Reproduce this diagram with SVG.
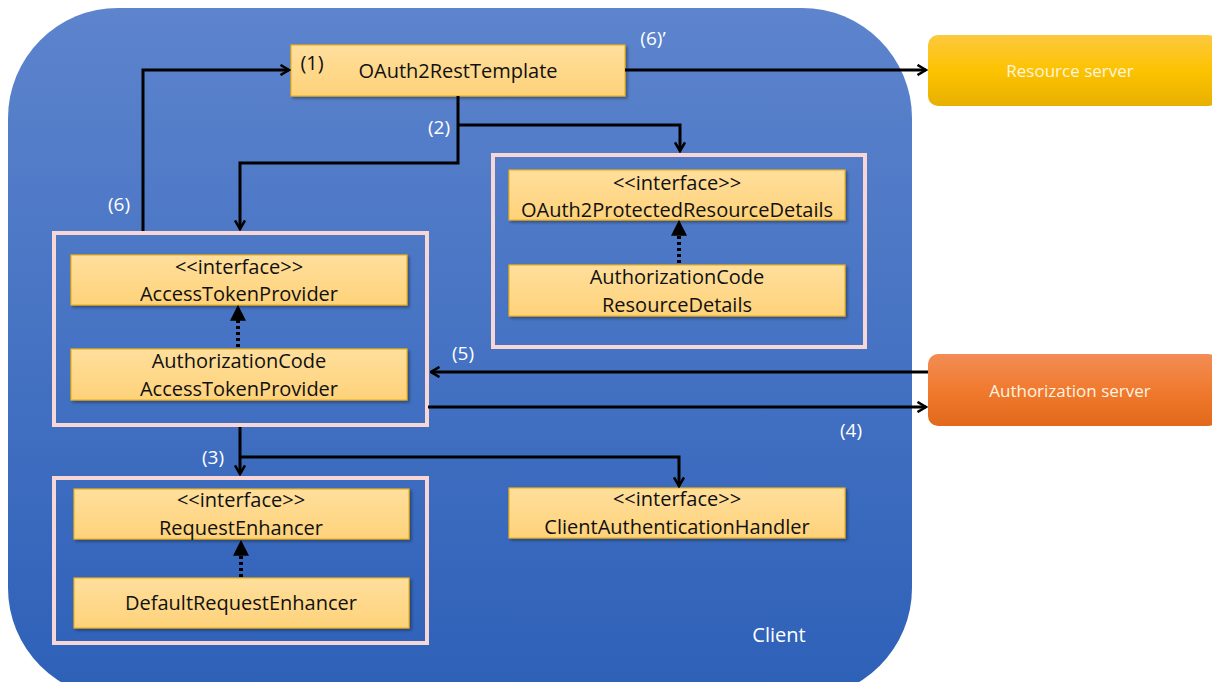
<svg xmlns="http://www.w3.org/2000/svg" width="1212" height="682" viewBox="0 0 1212 682">
<defs>
<linearGradient id="gClient" x1="0" y1="0" x2="0" y2="1">
<stop offset="0" stop-color="#5d84cd"/>
<stop offset="1" stop-color="#2d60b8"/>
</linearGradient>
<linearGradient id="gBox" x1="0" y1="0" x2="0" y2="1">
<stop offset="0" stop-color="#ffdf9c"/>
<stop offset="1" stop-color="#fed27a"/>
</linearGradient>
<linearGradient id="gRes" x1="0" y1="0" x2="0" y2="1">
<stop offset="0" stop-color="#fdc83e"/>
<stop offset="0.5" stop-color="#fcc300"/>
<stop offset="1" stop-color="#e8b000"/>
</linearGradient>
<linearGradient id="gAuth" x1="0" y1="0" x2="0" y2="1">
<stop offset="0" stop-color="#f28d55"/>
<stop offset="0.5" stop-color="#f07a2f"/>
<stop offset="1" stop-color="#e2691a"/>
</linearGradient>
<filter id="sh" x="-5%" y="-10%" width="110%" height="130%">
<feDropShadow dx="2" dy="2" stdDeviation="1.5" flood-color="#000" flood-opacity="0.35"/>
</filter>
<marker id="arr" viewBox="0 0 12 12" refX="10.5" refY="6" markerWidth="12" markerHeight="12" markerUnits="userSpaceOnUse" orient="auto">
<path d="M2,1 L10.5,6 L2,11" fill="none" stroke="#000" stroke-width="2.6"/>
</marker>
<marker id="tri" viewBox="0 0 14 14" refX="13" refY="7" markerWidth="16" markerHeight="16" markerUnits="userSpaceOnUse" orient="auto">
<path d="M0,0 L14,7 L0,14 Z" fill="#000"/>
</marker>
</defs>
<style>
.box{fill:url(#gBox);stroke:#f0b21a;stroke-width:1.2;filter:url(#sh)}
.grp{fill:none;stroke:#f7d6d6;stroke-width:4}
.t{font-family:"Open Sans","Liberation Sans",sans-serif;font-size:20px;fill:#111;text-anchor:middle}
.w{font-family:"Open Sans","Liberation Sans",sans-serif;font-size:19px;fill:#fff;text-anchor:middle}
.ws{font-family:"Open Sans","Liberation Sans",sans-serif;font-size:17px;fill:#fff4e0;text-anchor:middle}
.c{fill:none;stroke:#000;stroke-width:3;marker-end:url(#arr)}
.d{fill:none;stroke:#000;stroke-width:4;stroke-dasharray:3 3;marker-end:url(#tri)}
</style>
<g id="client">
<rect x="8" y="8" width="904" height="690" rx="110" ry="110" fill="url(#gClient)"/>
<text class="w" x="779" y="642" style="font-size:20px">Client</text>
</g>
<g id="resource-server">
<rect x="928" y="35" width="290" height="71" rx="10" fill="url(#gRes)"/>
<text class="ws" x="1070" y="77">Resource server</text>
</g>
<g id="authorization-server">
<rect x="928" y="354" width="290" height="72" rx="10" fill="url(#gAuth)"/>
<text class="ws" x="1070" y="397">Authorization server</text>
</g>
<g id="group-token">
<rect class="grp" x="54" y="233" width="373" height="192"/>
</g>
<g id="group-resource">
<rect class="grp" x="493" y="155" width="372" height="192"/>
</g>
<g id="group-enhancer">
<rect class="grp" x="54" y="478" width="373" height="165"/>
</g>
<g id="oauth2resttemplate">
<rect class="box" x="291" y="45" width="334" height="51"/>
<text class="t" x="312" y="70">(1)</text>
<text class="t" x="458" y="78">OAuth2RestTemplate</text>
</g>
<g id="accesstokenprovider">
<rect class="box" x="71" y="255" width="336" height="50"/>
<text class="t" x="239" y="274">&lt;&lt;interface&gt;&gt;</text>
<text class="t" x="239" y="301">AccessTokenProvider</text>
</g>
<g id="authcodeaccesstokenprovider">
<rect class="box" x="71" y="349" width="336" height="51"/>
<text class="t" x="239" y="368">AuthorizationCode</text>
<text class="t" x="239" y="396">AccessTokenProvider</text>
</g>
<g id="oauth2protectedresourcedetails">
<rect class="box" x="509" y="170" width="336" height="50"/>
<text class="t" x="677" y="190">&lt;&lt;interface&gt;&gt;</text>
<text class="t" x="677" y="217">OAuth2ProtectedResourceDetails</text>
</g>
<g id="authcoderesourcedetails">
<rect class="box" x="509" y="265" width="336" height="51"/>
<text class="t" x="677" y="284">AuthorizationCode</text>
<text class="t" x="677" y="312">ResourceDetails</text>
</g>
<g id="requestenhancer">
<rect class="box" x="74" y="489" width="335" height="50"/>
<text class="t" x="241" y="507">&lt;&lt;interface&gt;&gt;</text>
<text class="t" x="241" y="535">RequestEnhancer</text>
</g>
<g id="defaultrequestenhancer">
<rect class="box" x="74" y="578" width="335" height="50"/>
<text class="t" x="241" y="610">DefaultRequestEnhancer</text>
</g>
<g id="clientauthenticationhandler">
<rect class="box" x="509" y="488" width="336" height="50"/>
<text class="t" x="677" y="506">&lt;&lt;interface&gt;&gt;</text>
<text class="t" x="677" y="534">ClientAuthenticationHandler</text>
</g>
<g id="connectors">
<path class="c" d="M143,231 V70 H289"/>
<path class="c" d="M625,70 H926"/>
<path class="c" d="M458,96 V163 H240 V229"/>
<path class="c" d="M458,125 H680 V151"/>
<path class="c" d="M928,372 H431"/>
<path class="c" d="M428,407 H926"/>
<path class="c" d="M240,427 V474"/>
<path class="c" d="M240,457 H679 V486"/>
<path class="d" d="M238,347 V306"/>
<path class="d" d="M679,263 V221"/>
<path class="d" d="M241,577 V541"/>
<text class="w" x="119" y="211">(6)</text>
<text class="w" x="653" y="45">(6)’</text>
<text class="w" x="439" y="134">(2)</text>
<text class="w" x="463" y="360">(5)</text>
<text class="w" x="851" y="437">(4)</text>
<text class="w" x="213" y="464">(3)</text>
</g>
</svg>
